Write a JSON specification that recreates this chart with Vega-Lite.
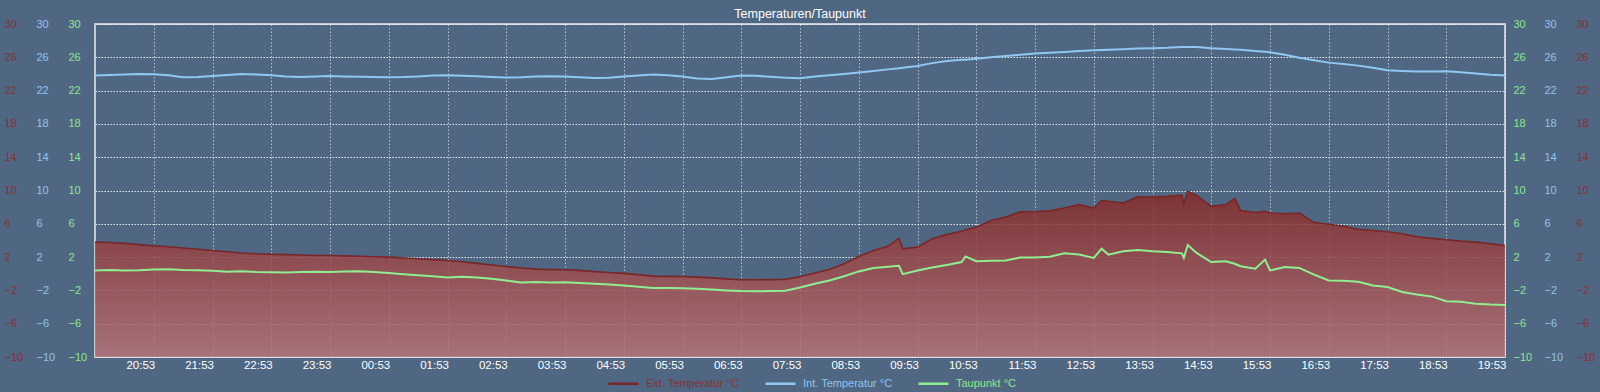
{
  "$schema": "https://vega.github.io/schema/vega-lite/v6.json",
  "width": 1410,
  "height": 333,
  "autosize": {"type": "none"},
  "padding": {"left": 95, "right": 95, "top": 24, "bottom": 35},
  "background": "#4f6782",
  "title": {"text": "Temperaturen/Taupunkt", "color": "#ffffff", "fontSize": 12.5, "font": "Liberation Sans", "fontWeight": "normal", "anchor": "middle", "offset": 8, "dy": 10},
  "config": {
    "view": {"stroke": "#c3cad4", "strokeWidth": 2},
    "axis": {"labelFont": "Liberation Sans", "domain": false, "ticks": false, "tickSize": 0, "title": null, "labelFlush": false}
  },
  "data": {
    "format": {"parse": {"t": "utc:'%d %H:%M'"}},
    "values": [
      {"t": "1 19:53", "ext": 3.8, "int": 23.8, "dew": 0.4},
      {"t": "1 20:08", "ext": 3.75, "int": 23.86, "dew": 0.45},
      {"t": "1 20:23", "ext": 3.65, "int": 23.93, "dew": 0.38},
      {"t": "1 20:38", "ext": 3.5, "int": 24.0, "dew": 0.42},
      {"t": "1 20:53", "ext": 3.35, "int": 23.95, "dew": 0.5},
      {"t": "1 21:08", "ext": 3.25, "int": 23.84, "dew": 0.55},
      {"t": "1 21:23", "ext": 3.1, "int": 23.6, "dew": 0.45},
      {"t": "1 21:38", "ext": 2.95, "int": 23.62, "dew": 0.42},
      {"t": "1 21:53", "ext": 2.8, "int": 23.75, "dew": 0.35},
      {"t": "1 22:08", "ext": 2.65, "int": 23.86, "dew": 0.25},
      {"t": "1 22:23", "ext": 2.5, "int": 24.0, "dew": 0.3},
      {"t": "1 22:38", "ext": 2.4, "int": 23.94, "dew": 0.22},
      {"t": "1 22:53", "ext": 2.35, "int": 23.84, "dew": 0.18},
      {"t": "1 23:08", "ext": 2.3, "int": 23.7, "dew": 0.16},
      {"t": "1 23:23", "ext": 2.25, "int": 23.64, "dew": 0.2},
      {"t": "1 23:38", "ext": 2.2, "int": 23.7, "dew": 0.25},
      {"t": "1 23:53", "ext": 2.2, "int": 23.74, "dew": 0.22},
      {"t": "2 00:08", "ext": 2.15, "int": 23.7, "dew": 0.26},
      {"t": "2 00:23", "ext": 2.1, "int": 23.66, "dew": 0.3},
      {"t": "2 00:38", "ext": 2.05, "int": 23.62, "dew": 0.2},
      {"t": "2 00:53", "ext": 2.0, "int": 23.6, "dew": 0.08},
      {"t": "2 01:08", "ext": 1.9, "int": 23.63, "dew": -0.05},
      {"t": "2 01:23", "ext": 1.8, "int": 23.7, "dew": -0.18},
      {"t": "2 01:38", "ext": 1.7, "int": 23.8, "dew": -0.3},
      {"t": "2 01:53", "ext": 1.6, "int": 23.84, "dew": -0.44},
      {"t": "2 02:08", "ext": 1.45, "int": 23.78, "dew": -0.35},
      {"t": "2 02:23", "ext": 1.25, "int": 23.72, "dew": -0.45},
      {"t": "2 02:38", "ext": 1.05, "int": 23.64, "dew": -0.6},
      {"t": "2 02:53", "ext": 0.88, "int": 23.56, "dew": -0.8},
      {"t": "2 03:08", "ext": 0.7, "int": 23.6, "dew": -1.05},
      {"t": "2 03:23", "ext": 0.55, "int": 23.68, "dew": -0.98},
      {"t": "2 03:38", "ext": 0.5, "int": 23.72, "dew": -1.05},
      {"t": "2 03:53", "ext": 0.48, "int": 23.7, "dew": -1.02},
      {"t": "2 04:08", "ext": 0.4, "int": 23.6, "dew": -1.1},
      {"t": "2 04:23", "ext": 0.25, "int": 23.52, "dew": -1.2},
      {"t": "2 04:38", "ext": 0.15, "int": 23.55, "dew": -1.28},
      {"t": "2 04:53", "ext": 0.05, "int": 23.7, "dew": -1.4},
      {"t": "2 05:08", "ext": -0.1, "int": 23.8, "dew": -1.55},
      {"t": "2 05:23", "ext": -0.28, "int": 23.92, "dew": -1.72},
      {"t": "2 05:38", "ext": -0.32, "int": 23.85, "dew": -1.72},
      {"t": "2 05:53", "ext": -0.33, "int": 23.7, "dew": -1.75},
      {"t": "2 06:08", "ext": -0.4, "int": 23.45, "dew": -1.8},
      {"t": "2 06:23", "ext": -0.5, "int": 23.4, "dew": -1.9},
      {"t": "2 06:38", "ext": -0.62, "int": 23.6, "dew": -2.0},
      {"t": "2 06:53", "ext": -0.72, "int": 23.82, "dew": -2.08},
      {"t": "2 07:08", "ext": -0.72, "int": 23.78, "dew": -2.1},
      {"t": "2 07:23", "ext": -0.7, "int": 23.65, "dew": -2.08},
      {"t": "2 07:38", "ext": -0.68, "int": 23.55, "dew": -2.05},
      {"t": "2 07:53", "ext": -0.35, "int": 23.48, "dew": -1.65},
      {"t": "2 08:08", "ext": 0.1, "int": 23.7, "dew": -1.2},
      {"t": "2 08:23", "ext": 0.5, "int": 23.85, "dew": -0.8},
      {"t": "2 08:38", "ext": 1.2, "int": 24.0, "dew": -0.3},
      {"t": "2 08:53", "ext": 2.08, "int": 24.16, "dew": 0.28},
      {"t": "2 09:08", "ext": 2.8, "int": 24.35, "dew": 0.7},
      {"t": "2 09:23", "ext": 3.3, "int": 24.55, "dew": 0.85},
      {"t": "2 09:34", "ext": 4.25, "int": 24.68, "dew": 0.95},
      {"t": "2 09:38", "ext": 3.0, "int": 24.75, "dew": -0.05},
      {"t": "2 09:53", "ext": 3.2, "int": 24.96, "dew": 0.4},
      {"t": "2 10:08", "ext": 4.2, "int": 25.3, "dew": 0.75},
      {"t": "2 10:23", "ext": 4.7, "int": 25.55, "dew": 1.05},
      {"t": "2 10:38", "ext": 5.1, "int": 25.7, "dew": 1.4},
      {"t": "2 10:42", "ext": 5.25, "int": 25.72, "dew": 2.08},
      {"t": "2 10:53", "ext": 5.6, "int": 25.84, "dew": 1.5},
      {"t": "2 11:08", "ext": 6.4, "int": 26.0, "dew": 1.55},
      {"t": "2 11:23", "ext": 6.8, "int": 26.15, "dew": 1.6},
      {"t": "2 11:38", "ext": 7.45, "int": 26.3, "dew": 1.95},
      {"t": "2 11:53", "ext": 7.48, "int": 26.45, "dew": 1.95},
      {"t": "2 12:08", "ext": 7.55, "int": 26.55, "dew": 2.05},
      {"t": "2 12:23", "ext": 7.9, "int": 26.65, "dew": 2.45},
      {"t": "2 12:38", "ext": 8.3, "int": 26.75, "dew": 2.3},
      {"t": "2 12:53", "ext": 7.9, "int": 26.85, "dew": 1.9},
      {"t": "2 13:01", "ext": 8.8, "int": 26.87, "dew": 3.0},
      {"t": "2 13:08", "ext": 8.7, "int": 26.9, "dew": 2.3},
      {"t": "2 13:23", "ext": 8.5, "int": 26.98, "dew": 2.7},
      {"t": "2 13:38", "ext": 9.25, "int": 27.05, "dew": 2.85},
      {"t": "2 13:53", "ext": 9.2, "int": 27.1, "dew": 2.7},
      {"t": "2 14:08", "ext": 9.3, "int": 27.15, "dew": 2.6},
      {"t": "2 14:23", "ext": 9.45, "int": 27.25, "dew": 2.45},
      {"t": "2 14:25", "ext": 8.4, "int": 27.25, "dew": 1.9},
      {"t": "2 14:29", "ext": 9.9, "int": 27.25, "dew": 3.45},
      {"t": "2 14:38", "ext": 9.4, "int": 27.25, "dew": 2.5},
      {"t": "2 14:53", "ext": 8.1, "int": 27.1, "dew": 1.4},
      {"t": "2 15:08", "ext": 8.3, "int": 27.0, "dew": 1.5},
      {"t": "2 15:17", "ext": 9.05, "int": 26.95, "dew": 1.2},
      {"t": "2 15:23", "ext": 7.6, "int": 26.9, "dew": 0.9},
      {"t": "2 15:38", "ext": 7.35, "int": 26.75, "dew": 0.6},
      {"t": "2 15:48", "ext": 7.5, "int": 26.68, "dew": 1.7},
      {"t": "2 15:53", "ext": 7.3, "int": 26.6, "dew": 0.4},
      {"t": "2 16:08", "ext": 7.2, "int": 26.3, "dew": 0.8},
      {"t": "2 16:23", "ext": 7.3, "int": 25.95, "dew": 0.7},
      {"t": "2 16:38", "ext": 6.15, "int": 25.65, "dew": -0.1},
      {"t": "2 16:53", "ext": 5.95, "int": 25.36, "dew": -0.8},
      {"t": "2 17:08", "ext": 5.7, "int": 25.2, "dew": -0.85},
      {"t": "2 17:23", "ext": 5.35, "int": 25.0, "dew": -0.95},
      {"t": "2 17:38", "ext": 5.2, "int": 24.75, "dew": -1.4},
      {"t": "2 17:53", "ext": 5.05, "int": 24.45, "dew": -1.6},
      {"t": "2 18:08", "ext": 4.8, "int": 24.35, "dew": -2.2},
      {"t": "2 18:23", "ext": 4.45, "int": 24.28, "dew": -2.5},
      {"t": "2 18:38", "ext": 4.25, "int": 24.3, "dew": -2.72},
      {"t": "2 18:53", "ext": 4.08, "int": 24.32, "dew": -3.3},
      {"t": "2 19:08", "ext": 3.92, "int": 24.2, "dew": -3.35},
      {"t": "2 19:23", "ext": 3.8, "int": 24.05, "dew": -3.6},
      {"t": "2 19:38", "ext": 3.6, "int": 23.9, "dew": -3.7},
      {"t": "2 19:53", "ext": 3.4, "int": 23.8, "dew": -3.75}
    ]
  },
  "encoding": {
    "x": {
      "field": "t", "type": "temporal",
      "scale": {"type": "utc", "domain": [-2208917220000, -2208830820000], "nice": false},
      "axis": {
        "format": "%H:%M", "labelColor": "#ffffff", "labelFontSize": 11.5, "labelAlign": "right", "labelBaseline": "top", "labelPadding": 2, "labelOffset": 1,
        "grid": true, "gridColor": "#ffffff", "gridOpacity": 0.6, "gridDash": [1.5, 2], "gridWidth": 1,
        "values": [-2208913620000, -2208910020000, -2208906420000, -2208902820000, -2208899220000, -2208895620000, -2208892020000, -2208888420000, -2208884820000, -2208881220000, -2208877620000, -2208874020000, -2208870420000, -2208866820000, -2208863220000, -2208859620000, -2208856020000, -2208852420000, -2208848820000, -2208845220000, -2208841620000, -2208838020000, -2208834420000, -2208830820000]
      }
    }
  },
  "layer": [
    {
      "mark": {"type": "area", "opacity": 0.85, "fill": {"gradient": "linear", "x1": 0, "y1": 0, "x2": 0, "y2": 1, "stops": [{"offset": 0, "color": "#852a28"}, {"offset": 1, "color": "#b67478"}]}},
      "encoding": {
        "y": {"field": "ext", "type": "quantitative", "scale": {"domain": [-10, 30], "nice": false, "zero": false}, "axis": null},
        "y2": {"datum": -10}
      }
    },
    {
      "mark": {"type": "line", "strokeWidth": 1.6},
      "encoding": {
        "y": {"field": "ext", "type": "quantitative", "axis": {"orient": "left", "labelAlign": "left", "labelPadding": 91, "labelColor": "#8a3030", "labelFontSize": 11, "grid": false, "values": [-10, -6, -2, 2, 6, 10, 14, 18, 22, 26, 30]}},
        "color": {
          "datum": "Ext. Temperatur °C",
          "scale": {"domain": ["Ext. Temperatur °C", "Int. Temperatur °C", "Taupunkt °C"], "range": ["#7a2626", "#8fc8f2", "#90ee90"]},
          "legend": {
            "orient": "none", "legendX": 512, "legendY": 343, "direction": "horizontal", "title": null,
            "symbolType": "stroke", "symbolSize": 900, "symbolStrokeWidth": 2.5,
            "labelFont": "Liberation Sans", "labelFontSize": 11, "columnPadding": 20, "labelOffset": 6, "padding": 0,
            "encode": {"labels": {"update": {"fill": {"signal": "datum.value === 'Ext. Temperatur °C' ? '#8a3030' : datum.value === 'Int. Temperatur °C' ? '#8fc4ee' : '#8ee68e'"}}}}
          }
        }
      }
    },
    {
      "mark": {"type": "line", "strokeWidth": 2},
      "encoding": {
        "y": {"field": "int", "type": "quantitative", "axis": {"orient": "left", "labelAlign": "left", "labelPadding": 59, "labelColor": "#8fc4ee", "labelFontSize": 11, "grid": false, "values": [-10, -6, -2, 2, 6, 10, 14, 18, 22, 26, 30]}},
        "color": {"datum": "Int. Temperatur °C"}
      }
    },
    {
      "mark": {"type": "line", "strokeWidth": 2},
      "encoding": {
        "y": {"field": "dew", "type": "quantitative", "axis": {"orient": "left", "labelAlign": "left", "labelPadding": 27, "labelColor": "#8ee68e", "labelFontSize": 11, "grid": true, "gridColor": "#ffffff", "gridOpacity": 0.85, "gridDash": [1.5, 1.5], "gridWidth": 1, "values": [-10, -6, -2, 2, 6, 10, 14, 18, 22, 26, 30]}},
        "color": {"datum": "Taupunkt °C"}
      }
    },
    {
      "mark": {"type": "line", "opacity": 0},
      "encoding": {
        "y": {"field": "ext", "type": "quantitative", "axis": {"orient": "right", "labelAlign": "left", "labelPadding": 71, "labelColor": "#8a3030", "labelFontSize": 11, "grid": false, "values": [-10, -6, -2, 2, 6, 10, 14, 18, 22, 26, 30]}}
      }
    },
    {
      "mark": {"type": "line", "opacity": 0},
      "encoding": {
        "y": {"field": "int", "type": "quantitative", "axis": {"orient": "right", "labelAlign": "left", "labelPadding": 39, "labelColor": "#8fc4ee", "labelFontSize": 11, "grid": false, "values": [-10, -6, -2, 2, 6, 10, 14, 18, 22, 26, 30]}}
      }
    },
    {
      "mark": {"type": "line", "opacity": 0},
      "encoding": {
        "y": {"field": "dew", "type": "quantitative", "axis": {"orient": "right", "labelAlign": "left", "labelPadding": 8, "labelColor": "#8ee68e", "labelFontSize": 11, "grid": false, "values": [-10, -6, -2, 2, 6, 10, 14, 18, 22, 26, 30]}}
      }
    }
  ],
  "resolve": {"scale": {"y": "shared"}, "axis": {"y": "independent"}}
}
